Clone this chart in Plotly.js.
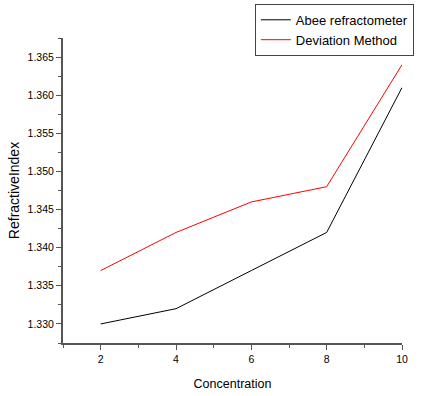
<!DOCTYPE html>
<html>
<head>
<meta charset="utf-8">
<script src="https://cdn.plot.ly/plotly-3.0.1.min.js"></script>
<style>
  html, body { margin: 0; padding: 0; background: #fff; }
  #chart { width: 433px; height: 396px; }
</style>
</head>
<body>
<div id="chart"></div>
<script>
// Concentration vs. refractive index, two measurement methods
const concentration = [2, 4, 6, 8, 10];
const abeeRefractometer = [1.330, 1.332, 1.337, 1.342, 1.361];
const deviationMethod = [1.337, 1.342, 1.346, 1.348, 1.364];
const seriesNames = ['Abee refractometer', 'Deviation Method'];

const axisColor = '#555555';
const font = { family: 'Liberation Sans, Arial, sans-serif', color: '#000' };

const traces = [
  {
    x: concentration, y: abeeRefractometer, name: seriesNames[0],
    type: 'scatter', mode: 'lines',
    line: { color: '#000000', width: 1 }
  },
  {
    x: concentration, y: deviationMethod, name: seriesNames[1],
    type: 'scatter', mode: 'lines',
    line: { color: '#ff0000', width: 1 }
  }
];

const layout = {
  width: 433, height: 396,
  margin: { l: 63, r: 31, t: 38, b: 53, autoexpand: false },
  paper_bgcolor: '#fff', plot_bgcolor: '#fff',
  font: Object.assign({ size: 10 }, font),
  showlegend: true,
  legend: {
    x: 0.566, xanchor: 'left', y: 1.112, yanchor: 'top',
    bordercolor: '#444', borderwidth: 1, bgcolor: '#fff',
    font: Object.assign({ size: 13 }, font),
    tracegroupgap: 0, itemwidth: 30, entrywidth: 135
  },
  xaxis: {
    range: [1, 10], tickvals: concentration,
    ticks: 'outside', ticklen: 5, tickwidth: 1, tickcolor: axisColor,
    minor: { tickvals: [1, 3, 5, 7, 9], ticks: 'outside', ticklen: 3, tickcolor: axisColor },
    showline: true, linecolor: axisColor, linewidth: 2,
    showgrid: false, zeroline: false,
    tickfont: Object.assign({ size: 10.5 }, font),
    title: { text: 'Concentration', font: Object.assign({ size: 12.5 }, font), standoff: 16 }
  },
  yaxis: {
    range: [1.3275, 1.3675], dtick: 0.005, tick0: 1.330, tickformat: '.3f',
    ticks: 'outside', ticklen: 5, tickwidth: 1, tickcolor: axisColor,
    minor: { dtick: 0.0025, tick0: 1.3275, ticks: 'outside', ticklen: 3, tickcolor: axisColor },
    showline: true, linecolor: axisColor, linewidth: 2,
    showgrid: false, zeroline: false,
    tickfont: Object.assign({ size: 10.5 }, font),
    title: { text: 'RefractiveIndex', font: Object.assign({ size: 14 }, font), standoff: 5 }
  }
};

Plotly.newPlot('chart', traces, layout, { displayModeBar: false, staticPlot: true });
</script>
</body>
</html>
